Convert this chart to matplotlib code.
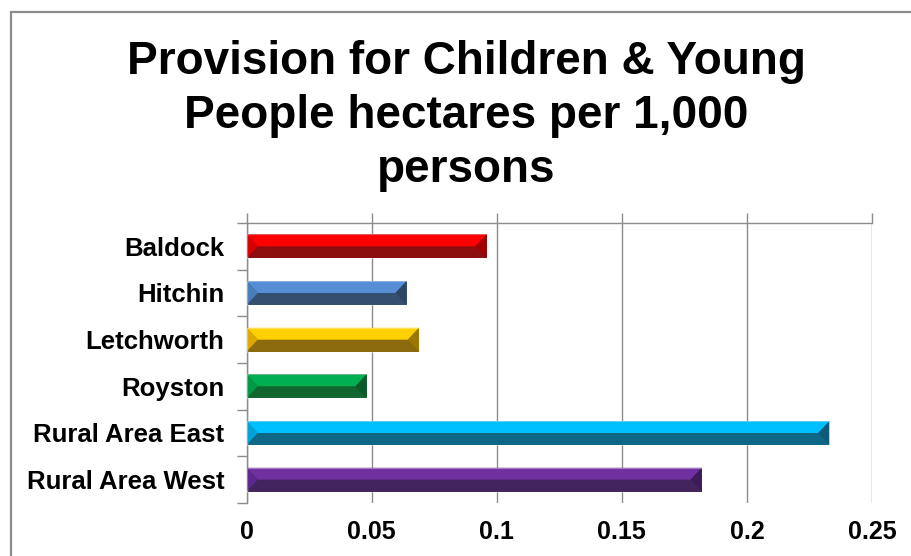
import matplotlib
matplotlib.use("Agg")
import matplotlib.pyplot as plt
from matplotlib.patches import Polygon, Rectangle
import numpy as np

plt.rcParams['font.family'] = ['Liberation Sans', 'DejaVu Sans']

categories = ["Baldock", "Hitchin", "Letchworth", "Royston", "Rural Area East", "Rural Area West"]
values = [0.096, 0.064, 0.069, 0.048, 0.233, 0.182]
xticks = [0, 0.05, 0.1, 0.15, 0.2, 0.25]
xticklabels = ["0", "0.05", "0.1", "0.15", "0.2", "0.25"]
title = "Provision for Children & Young\nPeople hectares per 1,000\npersons"

# style: (top face, bottom face, left bevel, right bevel)
styles = [
    ("#FF0000", "#8C0D0D", "#D80000", "#A00000"),
    ("#558ED5", "#344F70", "#4A7EBB", "#2C4766"),
    ("#FFD000", "#8A6A0C", "#E0A800", "#9C7800"),
    ("#00B050", "#12652F", "#009A45", "#0A5A28"),
    ("#00BFFF", "#0E6785", "#00A2DA", "#0A5A78"),
    ("#7030A0", "#43245E", "#5E2890", "#3C1B58"),
]

fig = plt.figure(figsize=(9.12, 5.56), dpi=100)
W, H = 912, 556
ax = fig.add_axes([246.5 / W, 1 - 503 / H, (872 - 246.5) / W, (503 - 223) / H])

# outer frame
fig.patches.append(Rectangle((11 / W, -0.1), 1.2, 1 - 12 / H + 0.1, transform=fig.transFigure,
                             fill=False, edgecolor="#8C8C8C", linewidth=1.6, zorder=0))

bh = 0.51
bev = 0.0045
pos = np.arange(len(categories))
ax.barh(pos, values, height=bh, color=[s[1] for s in styles], zorder=2, linewidth=0)
for i, (v, s) in enumerate(zip(values, styles)):
    top = i - bh / 2
    bot = i + bh / 2
    mid = i
    # top face
    ax.add_patch(Polygon([(0, top), (v, top), (v - bev, mid), (bev, mid)], closed=True,
                         facecolor=s[0], edgecolor="none", zorder=3))
    # left bevel
    ax.add_patch(Polygon([(0, top), (bev, mid), (0, bot)], closed=True,
                         facecolor=s[2], edgecolor="none", zorder=3))
    # right bevel
    ax.add_patch(Polygon([(v, top), (v - bev, mid), (v, bot)], closed=True,
                         facecolor=s[3], edgecolor="none", zorder=3))
    # subtle light outline
    ax.add_patch(Rectangle((0, top), v, bh, fill=False, edgecolor=(1, 1, 1, 0.35),
                           linewidth=0.8, zorder=4))

ax.set_xlim(0, 0.25)
ax.set_ylim(len(categories) - 0.5, -0.5)

ax.set_xticks(xticks)
ax.set_xticklabels(xticklabels, fontsize=18, fontweight="bold")
ax.tick_params(axis="x", top=True, bottom=False, labeltop=False, labelbottom=True,
               length=7, width=1, color="#8C8C8C", pad=5)
ax.xaxis.grid(True, color="#8C8C8C", linewidth=1.0, zorder=0)
ax.set_axisbelow(True)

ax.set_yticks(np.arange(len(categories) + 1) - 0.5)
ax.set_yticklabels([])
ax.set_yticks(pos, minor=True)
ax.set_yticklabels(categories, minor=True, fontsize=18.5, fontweight="bold")
ax.tick_params(axis="y", which="major", length=7, width=1, color="#8C8C8C")
ax.tick_params(axis="y", which="minor", length=0, pad=16)

for side in ["right", "bottom"]:
    ax.spines[side].set_visible(False)
for side in ["top", "left"]:
    ax.spines[side].set_color("#8C8C8C")
    ax.spines[side].set_linewidth(1.0)

fig.text(466 / W, 1 - 40 / H, title, ha="center", va="top", fontsize=33,
         fontweight="bold", linespacing=1.3)

fig.savefig("out.png", dpi=100)
